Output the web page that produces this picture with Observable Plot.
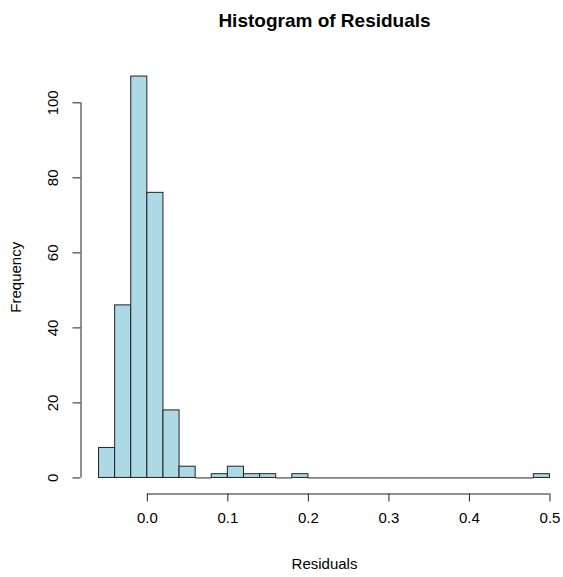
<!DOCTYPE html>
<html>
<head>
<meta charset="utf-8">
<script src="https://cdn.jsdelivr.net/npm/d3@7"></script>
<script src="https://cdn.jsdelivr.net/npm/@observablehq/plot@0.6"></script>
<style>
  html, body { margin: 0; padding: 0; background: #fff; }
  #chart svg { display: block; overflow: visible; }
</style>
</head>
<body>
<div id="chart"></div>
<script>
// Histogram bin edges (width 0.02)
const binStarts = [-0.06, -0.04, -0.02, 0.00, 0.02, 0.04, 0.06, 0.08, 0.10, 0.12, 0.14, 0.16, 0.18, 0.20,
                   0.22, 0.24, 0.26, 0.28, 0.30, 0.32, 0.34, 0.36, 0.38, 0.40, 0.42, 0.44, 0.46, 0.48];
const binEnds   = [-0.04, -0.02, 0.00, 0.02, 0.04, 0.06, 0.08, 0.10, 0.12, 0.14, 0.16, 0.18, 0.20, 0.22,
                   0.24, 0.26, 0.28, 0.30, 0.32, 0.34, 0.36, 0.38, 0.40, 0.42, 0.44, 0.46, 0.48, 0.50];
// Frequencies
const counts    = [8, 46, 107, 76, 18, 3, 0, 1, 3, 1, 1, 0, 1, 0,
                   0, 0, 0, 0, 0, 0, 0, 0, 0, 0, 0, 0, 0, 1];
const xTicks = [0.0, 0.1, 0.2, 0.3, 0.4, 0.5];
const xTickLabels = ["0.0", "0.1", "0.2", "0.3", "0.4", "0.5"];
const yTicks = [0, 20, 40, 60, 80, 100];
const titleText = "Histogram of Residuals";
const xLabel = "Residuals";
const yLabel = "Frequency";

const bins = counts.map((c, i) => ({x1: binStarts[i], x2: binEnds[i], count: c}));
const nonZero = bins.filter(d => d.count > 0);
const zeroBins = bins.filter(d => d.count === 0);

// R-style 4% axis extension
const xmin = binStarts[0], xmax = binEnds[binEnds.length - 1];
const xpad = (xmax - xmin) * 0.04;
const ymaxData = d3.max(counts);
const ypad = ymaxData * 0.04;
const xDomain = [xmin - xpad, xmax + xpad];
const yDomain = [-ypad, ymaxData + ypad];

const W = 563, H = 577;
const plotLeft = 80.5, plotRight = 567.5, plotTop = 60, plotBottom = 493.5;
const font = "'Liberation Sans', Arial, Helvetica, sans-serif";
const xMid = (xDomain[0] + xDomain[1]) / 2;
const yMid = (yDomain[0] + yDomain[1]) / 2;

const chart = Plot.plot({
  width: W,
  height: H,
  marginLeft: plotLeft,
  marginRight: 0,
  marginTop: plotTop,
  marginBottom: H - plotBottom,
  style: {fontFamily: font, fontSize: "15px", color: "#000", background: "#fff"},
  x: {type: "linear", domain: xDomain, range: [plotLeft, plotRight]},
  y: {type: "linear", domain: yDomain, range: [plotBottom, plotTop]},
  marks: [
    Plot.rectY(nonZero, {x1: "x1", x2: "x2", y1: 0, y2: "count", fill: "#ADD8E6", stroke: "#222", strokeWidth: 1, inset: 0}),
    Plot.ruleY(zeroBins, {x1: "x1", x2: "x2", y: 0, stroke: "#222", strokeWidth: 1}),
    // x axis line & ticks
    Plot.ruleY([yDomain[0]], {x1: xTicks[0], x2: xTicks[xTicks.length - 1], stroke: "#222"}),
    Plot.axisX(xTicks, {anchor: "bottom", tickSize: 8, tickPadding: 10, tickFormat: (d, i) => xTickLabels[i], fontSize: 15, label: null, stroke: "#222", strokeOpacity: 1}),
    // y axis line & ticks
    Plot.ruleX([xDomain[0]], {y1: yTicks[0], y2: yTicks[yTicks.length - 1], stroke: "#222"}),
    Plot.axisY(yTicks, {anchor: "left", tickSize: 8, tickFormat: () => "", label: null, stroke: "#222", strokeOpacity: 1}),
    Plot.text(yTicks, {y: d => d, x: xDomain[0], dx: -28, rotate: -90, text: d => String(d), fontSize: 15, textAnchor: "middle", lineAnchor: "middle", fill: "#000"}),
    // title & axis labels
    Plot.text([titleText], {x: xMid, frameAnchor: "top", dy: -40, text: d => d, fontSize: 19, fontWeight: "bold", fill: "#000", lineAnchor: "middle"}),
    Plot.text([xLabel], {x: xMid, frameAnchor: "bottom", dy: 70, text: d => d, fontSize: 15, fill: "#000", lineAnchor: "middle"}),
    Plot.text([yLabel], {y: yMid, frameAnchor: "left", dx: -65, rotate: -90, text: d => d, fontSize: 15, fill: "#000", textAnchor: "middle", lineAnchor: "middle"})
  ]
});
document.getElementById("chart").appendChild(chart);
</script>
</body>
</html>
